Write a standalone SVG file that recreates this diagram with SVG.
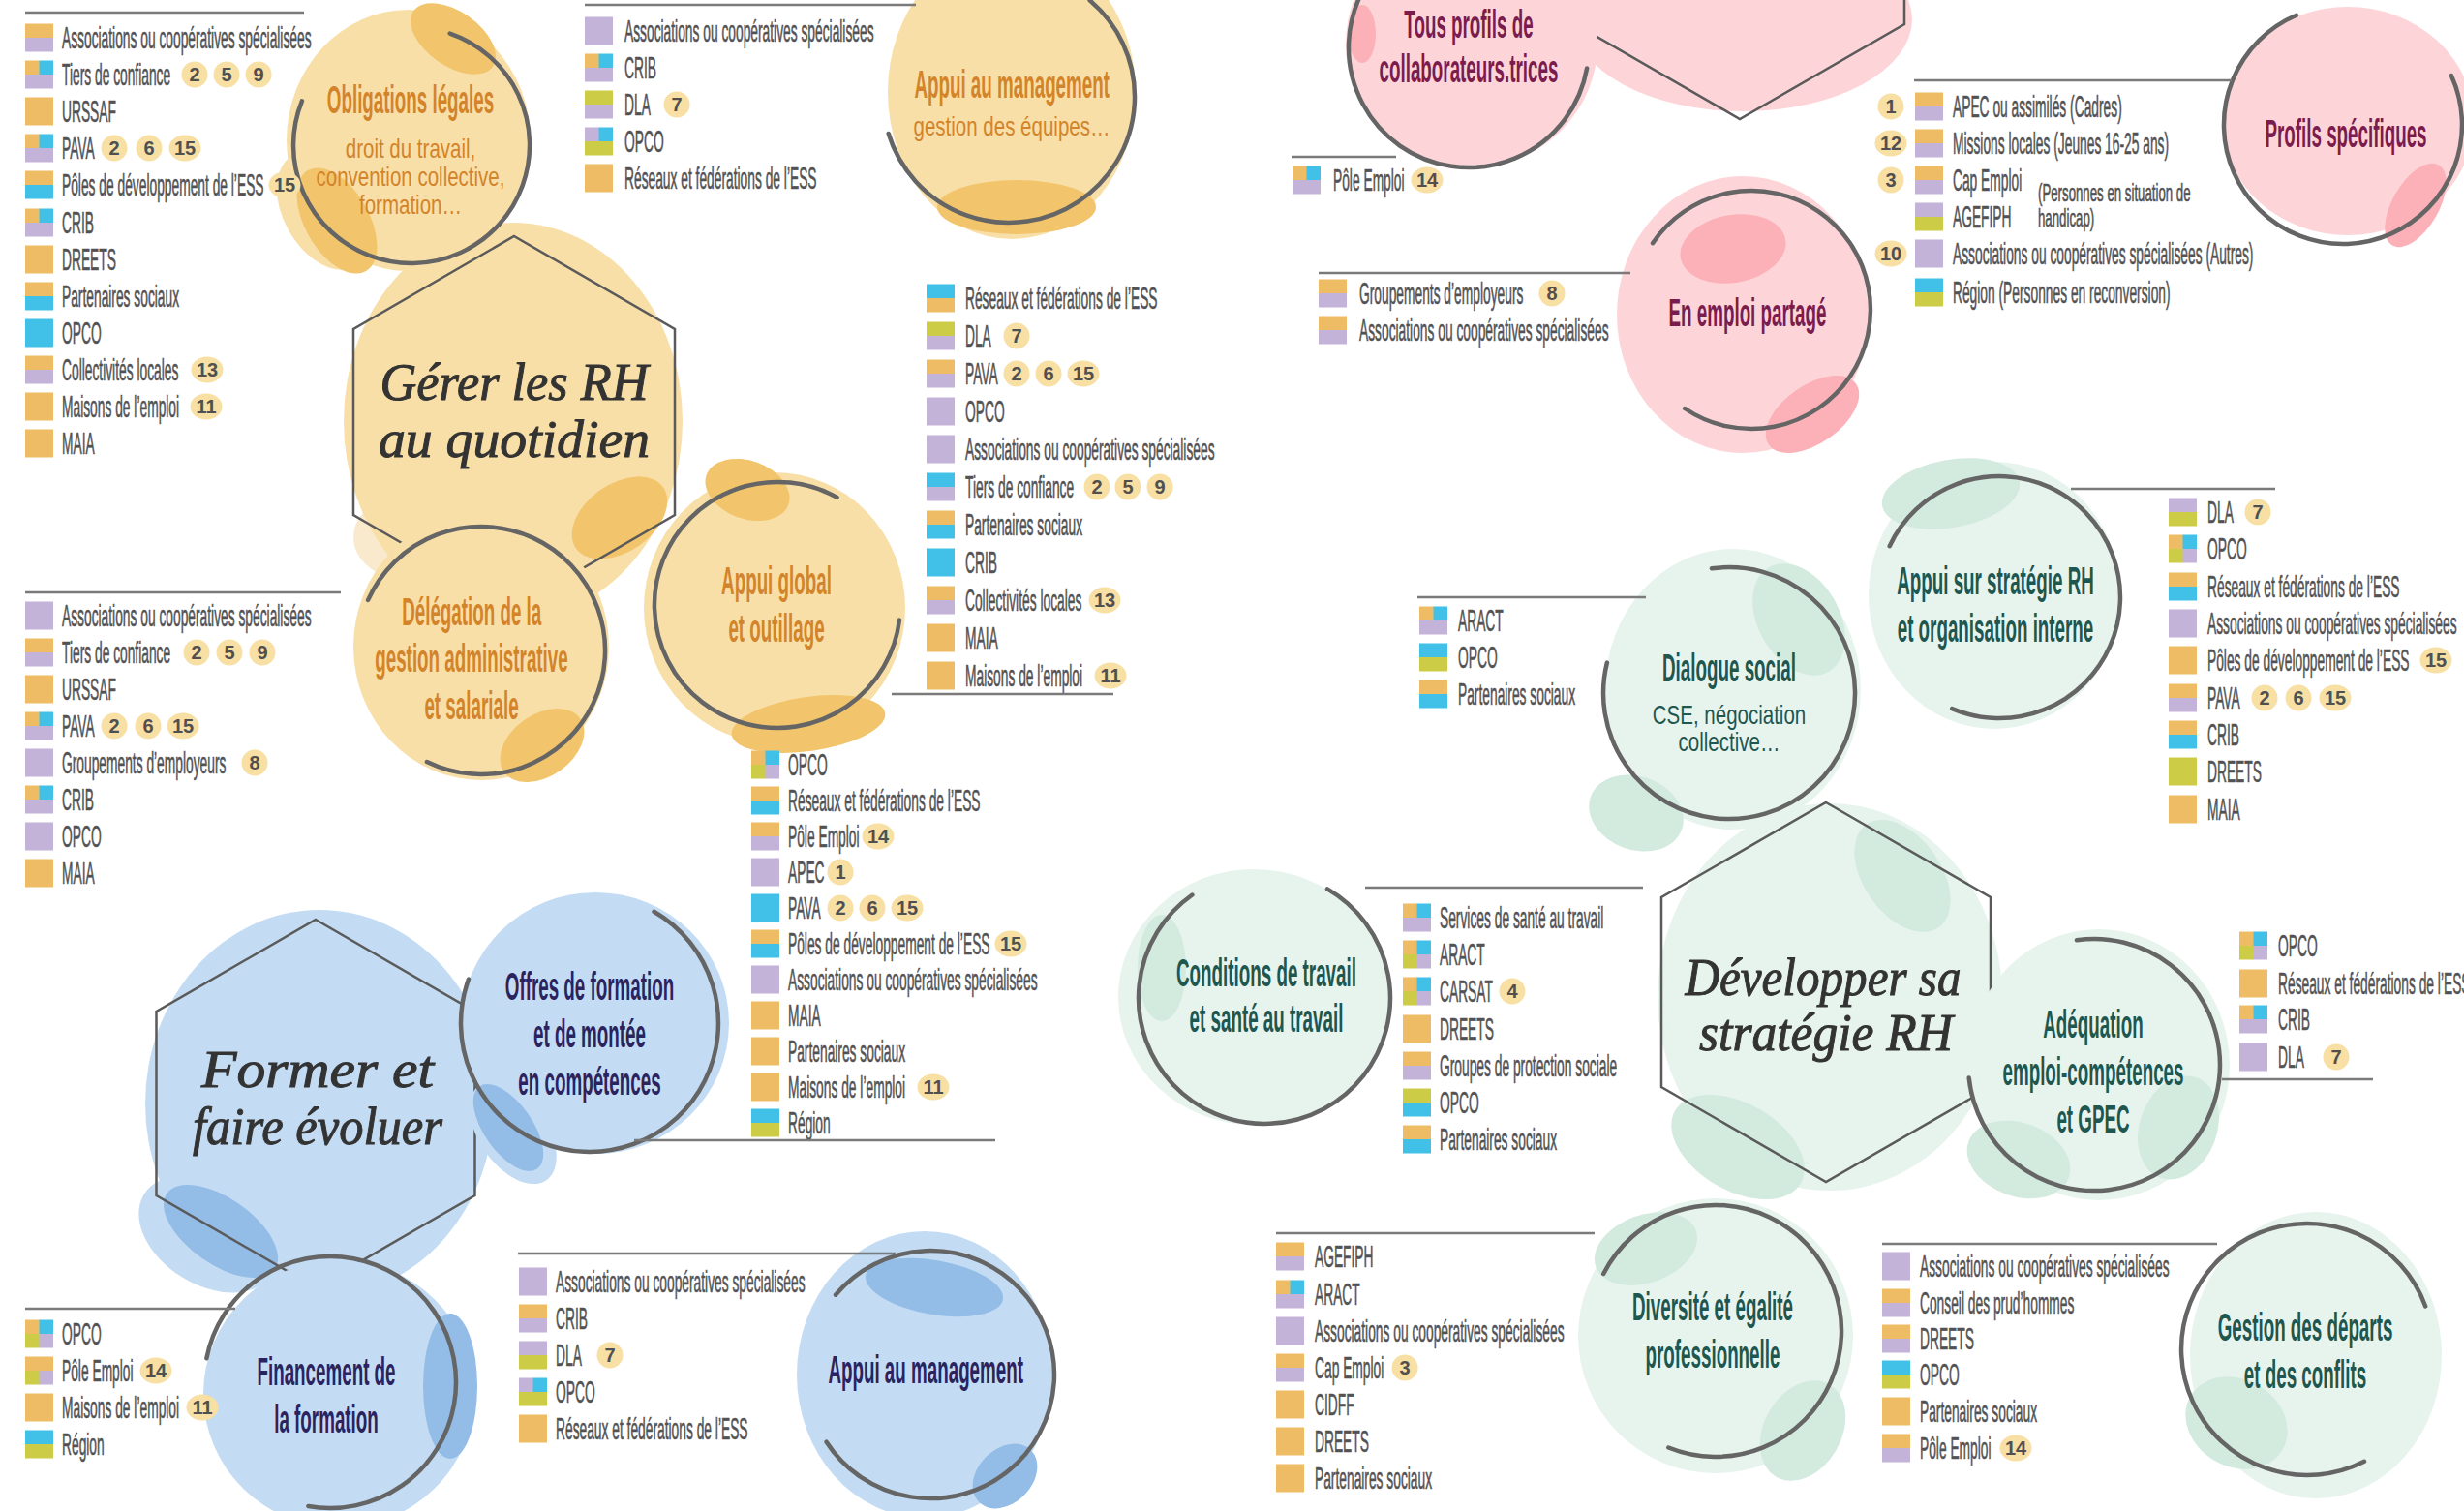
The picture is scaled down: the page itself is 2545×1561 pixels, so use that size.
<svg xmlns="http://www.w3.org/2000/svg" width="2545" height="1561" viewBox="0 0 2545 1561">
<style>
text{font-family:"Liberation Sans",Arial,sans-serif}
.t{font-size:31px;fill:#525254;stroke:#525254;stroke-width:.6;transform:scaleX(.445);transform-box:fill-box;transform-origin:0 50%}
.t2{font-size:25px;fill:#525254;stroke:#525254;stroke-width:.6;transform:scaleX(.53);transform-box:fill-box;transform-origin:0 50%}
.ti{font-size:40px;font-weight:bold;text-anchor:middle;transform:scaleX(.47);transform-box:fill-box;transform-origin:50% 50%}
.su{font-size:27px;text-anchor:middle;transform:scaleX(.76);transform-box:fill-box;transform-origin:50% 50%}
.hw{font-family:"Liberation Serif",serif;font-style:italic;font-size:54px;fill:#333;stroke:#333;stroke-width:1;text-anchor:middle}
.or{fill:#D3842A}.nv{fill:#2A235E}.mr{fill:#7B1C4E}.gr{fill:#1E5650}
.arc{fill:none;stroke:#656565;stroke-width:4.5;stroke-linecap:round}
.hex{fill:none;stroke:#5a5a5a;stroke-width:2.5}
.ln{stroke:#7a7a7a;stroke-width:2.5;fill:none}
.bo1{fill:#F8DFA7}.bo2{fill:#F2C46B}.bo0{fill:#FAEACD}
.bb1{fill:#C3DCF3}.bb2{fill:#93BCE7}
.bp1{fill:#FDD5D9}.bp2{fill:#FCB0B7}
.bg1{fill:#E7F4EE}.bg2{fill:#D3EADF}
.bd circle,.bd ellipse{fill:#F8DFA3}
.bd text{font-size:20px;font-weight:bold;fill:#505050;text-anchor:middle}
.co{fill:#EFBC66}.cl{fill:#C4B3D8}.cb{fill:#42C1E8}.cg{fill:#CDCC47}
</style>
<defs>
<g id="q-o"><rect class="co" width="29" height="29"/></g>
<g id="q-l"><rect class="cl" width="29" height="29"/></g>
<g id="q-b"><rect class="cb" width="29" height="29"/></g>
<g id="q-g"><rect class="cg" width="29" height="29"/></g>
<g id="q-ol"><rect class="co" width="29" height="15"/><rect class="cl" y="14.5" width="29" height="14.5"/></g>
<g id="q-ob"><rect class="co" width="29" height="15"/><rect class="cb" y="14.5" width="29" height="14.5"/></g>
<g id="q-bo"><rect class="cb" width="29" height="15"/><rect class="co" y="14.5" width="29" height="14.5"/></g>
<g id="q-bl"><rect class="cb" width="29" height="15"/><rect class="cl" y="14.5" width="29" height="14.5"/></g>
<g id="q-gl"><rect class="cg" width="29" height="15"/><rect class="cl" y="14.5" width="29" height="14.5"/></g>
<g id="q-lg"><rect class="cl" width="29" height="15"/><rect class="cg" y="14.5" width="29" height="14.5"/></g>
<g id="q-bg"><rect class="cb" width="29" height="15"/><rect class="cg" y="14.5" width="29" height="14.5"/></g>
<g id="q-gb"><rect class="cg" width="29" height="15"/><rect class="cb" y="14.5" width="29" height="14.5"/></g>
<g id="q-obl"><rect class="co" width="15" height="15"/><rect class="cb" x="14.5" width="14.5" height="15"/><rect class="cl" y="14.5" width="29" height="14.5"/></g>
<g id="q-lbg"><rect class="cl" width="15" height="15"/><rect class="cb" x="14.5" width="14.5" height="15"/><rect class="cg" y="14.5" width="29" height="14.5"/></g>
<g id="q-obgl"><rect class="co" width="15" height="15"/><rect class="cb" x="14.5" width="14.5" height="15"/><rect class="cg" y="14.5" width="15" height="14.5"/><rect class="cl" x="14.5" y="14.5" width="14.5" height="14.5"/></g>
<g id="q-ogl"><rect class="co" width="29" height="15"/><rect class="cg" y="14.5" width="15" height="14.5"/><rect class="cl" x="14.5" y="14.5" width="14.5" height="14.5"/></g>
</defs>
<rect width="2545" height="1561" fill="#ffffff"/>

<!-- HEXAGONS -->
<g id="n-gerer">
<ellipse class="bo0" cx="415" cy="555" rx="50" ry="42"/>
<ellipse class="bo1" cx="530" cy="435" rx="175" ry="205"/>
<ellipse class="bo2" cx="640" cy="535" rx="55" ry="35" transform="rotate(-35 640 535)"/>
<path class="hex" d="M531 244 L697 340 L697 532 L531 628 L365 532 L365 340Z"/>
<text class="hw" x="531" y="413" textLength="277" lengthAdjust="spacingAndGlyphs">Gérer les RH</text>
<text class="hw" x="531" y="472" textLength="280" lengthAdjust="spacingAndGlyphs">au quotidien</text>
</g>
<g id="n-former">
<ellipse class="bb1" cx="330" cy="1140" rx="180" ry="200"/>
<ellipse class="bb1" cx="215" cy="1275" rx="78" ry="52" transform="rotate(32 215 1275)"/>
<ellipse class="bb2" cx="228" cy="1272" rx="68" ry="34" transform="rotate(35 228 1272)"/>
<path class="hex" d="M326 950 L490.5 1045 L490.5 1235 L326 1330 L161.5 1235 L161.5 1045Z"/>
<text class="hw" x="328" y="1123" textLength="240" lengthAdjust="spacingAndGlyphs">Former et</text>
<text class="hw" x="328" y="1182" textLength="258" lengthAdjust="spacingAndGlyphs">faire évoluer</text>
</g>
<g id="n-recruter">
<ellipse class="bp1" cx="1800" cy="20" rx="175" ry="95"/>
<path class="hex" d="M1797 -269 L1967 -171 L1967 25 L1797 123 L1627 25 L1627 -171Z"/>
</g>
<g id="n-developper">
<ellipse class="bg1" cx="1890" cy="1030" rx="178" ry="200"/>
<ellipse class="bg2" cx="1965" cy="905" rx="40" ry="65" transform="rotate(-35 1965 905)"/>
<ellipse class="bg2" cx="1795" cy="1185" rx="75" ry="45" transform="rotate(30 1795 1185)"/>
<path class="hex" d="M1886 829 L2056 927 L2056 1123 L1886 1221 L1716 1123 L1716 927Z"/>
<text class="hw" x="1883" y="1028" textLength="285" lengthAdjust="spacingAndGlyphs">Développer sa</text>
<text class="hw" x="1886" y="1085" textLength="262" lengthAdjust="spacingAndGlyphs">stratégie RH</text>
</g>

<!-- ORANGE CIRCLES -->
<g id="n-obligations">
<ellipse class="bo1" cx="422" cy="145" rx="126" ry="135"/>
<ellipse class="bo1" cx="335" cy="218" rx="42" ry="66" transform="rotate(-30 335 218)"/>
<ellipse class="bo2" cx="468" cy="40" rx="50" ry="28" transform="rotate(35 468 40)"/>
<ellipse class="bo2" cx="348" cy="228" rx="33" ry="60" transform="rotate(-30 348 228)"/>
<path class="arc" d="M464.7 34.6 A122 122 0 1 1 311.9 104.3"/>
<text class="ti or" x="424" y="117">Obligations légales</text>
<text class="su or" x="424" y="163">droit du travail,</text>
<text class="su or" x="424" y="192">convention collective,</text>
<text class="su or" x="424" y="221">formation…</text>
<use href="#q-ol" x="26" y="24.5"/><text class="t" x="64" y="50">Associations ou coopératives spécialisées</text>
<use href="#q-obl" x="26" y="62.5"/><text class="t" x="64" y="88">Tiers de confiance</text>
<use href="#q-o" x="26" y="100.5"/><text class="t" x="64" y="126">URSSAF</text>
<use href="#q-obl" x="26" y="138.5"/><text class="t" x="64" y="164">PAVA</text>
<use href="#q-ob" x="26" y="176.5"/><text class="t" x="64" y="202">Pôles de développement de l’ESS</text>
<use href="#q-obl" x="26" y="215.5"/><text class="t" x="64" y="241">CRIB</text>
<use href="#q-o" x="26" y="253.5"/><text class="t" x="64" y="279">DREETS</text>
<use href="#q-ob" x="26" y="291.5"/><text class="t" x="64" y="317">Partenaires sociaux</text>
<use href="#q-b" x="26" y="329.5"/><text class="t" x="64" y="355">OPCO</text>
<use href="#q-ol" x="26" y="367.5"/><text class="t" x="64" y="393">Collectivités locales</text>
<use href="#q-o" x="26" y="405.5"/><text class="t" x="64" y="431">Maisons de l’emploi</text>
<use href="#q-o" x="26" y="443.5"/><text class="t" x="64" y="469">MAIA</text>
<g class="bd">
<circle cx="201" cy="77" r="13.5"/><text x="201" y="84">2</text>
<circle cx="234" cy="77" r="13.5"/><text x="234" y="84">5</text>
<circle cx="267" cy="77" r="13.5"/><text x="267" y="84">9</text>
<circle cx="118" cy="153" r="13.5"/><text x="118" y="160">2</text>
<circle cx="154" cy="153" r="13.5"/><text x="154" y="160">6</text>
<ellipse cx="191" cy="153" rx="16.5" ry="13.5"/><text x="191" y="160">15</text>
<ellipse cx="294" cy="191" rx="16.5" ry="13.5"/><text x="294" y="198">15</text>
<ellipse cx="214" cy="382" rx="16.5" ry="13.5"/><text x="214" y="389">13</text>
<ellipse cx="213" cy="420" rx="16.5" ry="13.5"/><text x="213" y="427">11</text>
</g>
</g>

<g id="n-management-o">
<ellipse class="bo1" cx="1045" cy="95" rx="128" ry="152"/>
<ellipse class="bo2" cx="1050" cy="214" rx="82" ry="28"/>
<path class="arc" d="M1125.6 0.4 A130 130 0 1 1 917.7 138"/>
<text class="ti or" x="1045" y="101">Appui au management</text>
<text class="su or" x="1045" y="140">gestion des équipes…</text>
<use href="#q-l" x="604" y="17.5"/><text class="t" x="645" y="43">Associations ou coopératives spécialisées</text>
<use href="#q-obl" x="604" y="55.5"/><text class="t" x="645" y="81">CRIB</text>
<use href="#q-gl" x="604" y="93.5"/><text class="t" x="645" y="119">DLA</text>
<use href="#q-lbg" x="604" y="131.5"/><text class="t" x="645" y="157">OPCO</text>
<use href="#q-o" x="604" y="169.5"/><text class="t" x="645" y="195">Réseaux et fédérations de l’ESS</text>
<g class="bd"><circle cx="699" cy="108" r="13.5"/><text x="699" y="115">7</text></g>
</g>

<g id="n-delegation">
<ellipse class="bo1" cx="497" cy="668" rx="132" ry="138"/>
<ellipse class="bo2" cx="560" cy="770" rx="48" ry="32" transform="rotate(-35 560 770)"/>
<path class="arc" d="M380.1 619.9 A128 128 0 1 1 440.9 787"/>
<text class="ti or" x="487" y="646">Délégation de la</text>
<text class="ti or" x="487" y="694">gestion administrative</text>
<text class="ti or" x="487" y="743">et salariale</text>
<use href="#q-l" x="26" y="621.5"/><text class="t" x="64" y="647">Associations ou coopératives spécialisées</text>
<use href="#q-ol" x="26" y="659.5"/><text class="t" x="64" y="685">Tiers de confiance</text>
<use href="#q-o" x="26" y="697.5"/><text class="t" x="64" y="723">URSSAF</text>
<use href="#q-obl" x="26" y="735.5"/><text class="t" x="64" y="761">PAVA</text>
<use href="#q-l" x="26" y="773.5"/><text class="t" x="64" y="799">Groupements d’employeurs</text>
<use href="#q-obl" x="26" y="811.5"/><text class="t" x="64" y="837">CRIB</text>
<use href="#q-l" x="26" y="849.5"/><text class="t" x="64" y="875">OPCO</text>
<use href="#q-o" x="26" y="887.5"/><text class="t" x="64" y="913">MAIA</text>
<g class="bd">
<circle cx="203" cy="674" r="13.5"/><text x="203" y="681">2</text>
<circle cx="237" cy="674" r="13.5"/><text x="237" y="681">5</text>
<circle cx="271" cy="674" r="13.5"/><text x="271" y="681">9</text>
<circle cx="118" cy="750" r="13.5"/><text x="118" y="757">2</text>
<circle cx="153" cy="750" r="13.5"/><text x="153" y="757">6</text>
<ellipse cx="189" cy="750" rx="16.5" ry="13.5"/><text x="189" y="757">15</text>
<circle cx="263" cy="788" r="13.5"/><text x="263" y="795">8</text>
</g>
</g>

<g id="n-global">
<ellipse class="bo1" cx="800" cy="628" rx="135" ry="140"/>
<ellipse class="bo2" cx="772" cy="506" rx="45" ry="30" transform="rotate(20 772 506)"/>
<ellipse class="bo2" cx="835" cy="748" rx="80" ry="28" transform="rotate(-8 835 748)"/>
<path class="arc" d="M929 640.5 A127 127 0 1 1 864.6 513.9"/>
<text class="ti or" x="802" y="614">Appui global</text>
<text class="ti or" x="802" y="663">et outillage</text>
<use href="#q-bo" x="957" y="293.5"/><text class="t" x="997" y="319">Réseaux et fédérations de l’ESS</text>
<use href="#q-gl" x="957" y="332.5"/><text class="t" x="997" y="358">DLA</text>
<use href="#q-ol" x="957" y="371.5"/><text class="t" x="997" y="397">PAVA</text>
<use href="#q-l" x="957" y="410.5"/><text class="t" x="997" y="436">OPCO</text>
<use href="#q-l" x="957" y="449.5"/><text class="t" x="997" y="475">Associations ou coopératives spécialisées</text>
<use href="#q-bl" x="957" y="488.5"/><text class="t" x="997" y="514">Tiers de confiance</text>
<use href="#q-ob" x="957" y="527.5"/><text class="t" x="997" y="553">Partenaires sociaux</text>
<use href="#q-b" x="957" y="566.5"/><text class="t" x="997" y="592">CRIB</text>
<use href="#q-ol" x="957" y="605.5"/><text class="t" x="997" y="631">Collectivités locales</text>
<use href="#q-o" x="957" y="644.5"/><text class="t" x="997" y="670">MAIA</text>
<use href="#q-o" x="957" y="683.5"/><text class="t" x="997" y="709">Maisons de l’emploi</text>
<g class="bd">
<circle cx="1050" cy="347" r="13.5"/><text x="1050" y="354">7</text>
<circle cx="1050" cy="386" r="13.5"/><text x="1050" y="393">2</text>
<circle cx="1083" cy="386" r="13.5"/><text x="1083" y="393">6</text>
<ellipse cx="1119" cy="386" rx="16.5" ry="13.5"/><text x="1119" y="393">15</text>
<circle cx="1133" cy="503" r="13.5"/><text x="1133" y="510">2</text>
<circle cx="1165" cy="503" r="13.5"/><text x="1165" y="510">5</text>
<circle cx="1198" cy="503" r="13.5"/><text x="1198" y="510">9</text>
<ellipse cx="1141" cy="620" rx="16.5" ry="13.5"/><text x="1141" y="627">13</text>
<ellipse cx="1147" cy="698" rx="16.5" ry="13.5"/><text x="1147" y="705">11</text>
</g>
</g>

<!-- BLUE CIRCLES -->
<g id="n-offres">
<ellipse class="bb1" cx="615" cy="1057" rx="138" ry="135"/>
<ellipse class="bb1" cx="530" cy="1170" rx="35" ry="60" transform="rotate(-35 530 1170)"/>
<ellipse class="bb2" cx="525" cy="1165" rx="25" ry="52" transform="rotate(-35 525 1165)"/>
<path class="arc" d="M675.5 941.8 A133 133 0 1 1 484 1011.5"/>
<text class="ti nv" x="609" y="1033">Offres de formation</text>
<text class="ti nv" x="609" y="1082">et de montée</text>
<text class="ti nv" x="609" y="1131">en compétences</text>
<use href="#q-obgl" x="776" y="775.5"/><text class="t" x="814" y="801">OPCO</text>
<use href="#q-ob" x="776" y="812.5"/><text class="t" x="814" y="838">Réseaux et fédérations de l’ESS</text>
<use href="#q-ol" x="776" y="849.5"/><text class="t" x="814" y="875">Pôle Emploi</text>
<use href="#q-l" x="776" y="886.5"/><text class="t" x="814" y="912">APEC</text>
<use href="#q-b" x="776" y="923.5"/><text class="t" x="814" y="949">PAVA</text>
<use href="#q-ob" x="776" y="960.5"/><text class="t" x="814" y="986">Pôles de développement de l’ESS</text>
<use href="#q-l" x="776" y="997.5"/><text class="t" x="814" y="1023">Associations ou coopératives spécialisées</text>
<use href="#q-o" x="776" y="1034.5"/><text class="t" x="814" y="1060">MAIA</text>
<use href="#q-o" x="776" y="1071.5"/><text class="t" x="814" y="1097">Partenaires sociaux</text>
<use href="#q-o" x="776" y="1108.5"/><text class="t" x="814" y="1134">Maisons de l’emploi</text>
<use href="#q-bg" x="776" y="1145.5"/><text class="t" x="814" y="1171">Région</text>
<g class="bd">
<ellipse cx="907" cy="864" rx="16.5" ry="13.5"/><text x="907" y="871">14</text>
<circle cx="868" cy="901" r="13.5"/><text x="868" y="908">1</text>
<circle cx="868" cy="938" r="13.5"/><text x="868" y="945">2</text>
<circle cx="901" cy="938" r="13.5"/><text x="901" y="945">6</text>
<ellipse cx="937" cy="938" rx="16.5" ry="13.5"/><text x="937" y="945">15</text>
<ellipse cx="1044" cy="975" rx="16.5" ry="13.5"/><text x="1044" y="982">15</text>
<ellipse cx="964" cy="1123" rx="16.5" ry="13.5"/><text x="964" y="1130">11</text>
</g>
</g>

<g id="n-financement">
<ellipse class="bb1" cx="350" cy="1440" rx="140" ry="138"/>
<ellipse class="bb2" cx="465" cy="1432" rx="28" ry="75"/>
<path class="arc" d="M213.4 1403.2 A130 130 0 1 1 318.4 1556"/>
<text class="ti nv" x="337" y="1431">Financement de</text>
<text class="ti nv" x="337" y="1480">la formation</text>
<use href="#q-obgl" x="26" y="1363.5"/><text class="t" x="64" y="1389">OPCO</text>
<use href="#q-ogl" x="26" y="1401.5"/><text class="t" x="64" y="1427">Pôle Emploi</text>
<use href="#q-o" x="26" y="1439.5"/><text class="t" x="64" y="1465">Maisons de l’emploi</text>
<use href="#q-bg" x="26" y="1477.5"/><text class="t" x="64" y="1503">Région</text>
<g class="bd">
<ellipse cx="161" cy="1416" rx="16.5" ry="13.5"/><text x="161" y="1423">14</text>
<ellipse cx="209" cy="1454" rx="16.5" ry="13.5"/><text x="209" y="1461">11</text>
</g>
</g>

<g id="n-management-b">
<ellipse class="bb1" cx="955" cy="1420" rx="132" ry="148"/>
<ellipse class="bb2" cx="965" cy="1330" rx="72" ry="28" transform="rotate(10 965 1330)"/>
<ellipse class="bb2" cx="1038" cy="1525" rx="38" ry="28" transform="rotate(-45 1038 1525)"/>
<path class="arc" d="M863 1337.7 A128 128 0 1 1 853.6 1489.7"/>
<text class="ti nv" x="956" y="1429">Appui au management</text>
<use href="#q-l" x="536" y="1309.5"/><text class="t" x="574" y="1335">Associations ou coopératives spécialisées</text>
<use href="#q-ol" x="536" y="1347.5"/><text class="t" x="574" y="1373">CRIB</text>
<use href="#q-lg" x="536" y="1385.5"/><text class="t" x="574" y="1411">DLA</text>
<use href="#q-lbg" x="536" y="1423.5"/><text class="t" x="574" y="1449">OPCO</text>
<use href="#q-o" x="536" y="1461.5"/><text class="t" x="574" y="1487">Réseaux et fédérations de l’ESS</text>
<g class="bd"><circle cx="630" cy="1400" r="13.5"/><text x="630" y="1407">7</text></g>
</g>

<!-- PINK CIRCLES -->
<g id="n-tous">
<ellipse class="bp1" cx="1520" cy="45" rx="130" ry="128"/>
<ellipse class="bp2" cx="1407" cy="35" rx="14" ry="30"/>
<path class="arc" d="M1639.1 70.5 A124 124 0 1 1 1455 -58.4"/>
<text class="ti mr" x="1517" y="39">Tous profils de</text>
<text class="ti mr" x="1517" y="85">collaborateurs.trices</text>
<use href="#q-obl" x="1335" y="171.5"/><text class="t" x="1377" y="197">Pôle Emploi</text>
<g class="bd"><ellipse cx="1474" cy="186" rx="16.5" ry="13.5"/><text x="1474" y="193">14</text></g>
</g>

<g id="n-partage">
<ellipse class="bp1" cx="1800" cy="325" rx="130" ry="143"/>
<ellipse class="bp2" cx="1790" cy="257" rx="55" ry="35" transform="rotate(-10 1790 257)"/>
<ellipse class="bp2" cx="1872" cy="428" rx="55" ry="30" transform="rotate(-35 1872 428)"/>
<path class="arc" d="M1707 251.2 A123 123 0 1 1 1740.2 422"/>
<text class="ti mr" x="1805" y="337">En emploi partagé</text>
<use href="#q-ol" x="1362" y="288.5"/><text class="t" x="1404" y="314">Groupements d’employeurs</text>
<use href="#q-ol" x="1362" y="326.5"/><text class="t" x="1404" y="352">Associations ou coopératives spécialisées</text>
<g class="bd"><circle cx="1603" cy="303" r="13.5"/><text x="1603" y="310">8</text></g>
</g>

<g id="n-profils">
<ellipse class="bp1" cx="2425" cy="125" rx="130" ry="118"/>
<ellipse class="bp2" cx="2495" cy="212" rx="24" ry="48" transform="rotate(30 2495 212)"/>
<path class="arc" d="M2531.9 78 A123 123 0 1 1 2371.9 15.8"/>
<text class="ti mr" x="2423" y="152">Profils spécifiques</text>
<use href="#q-ol" x="1978" y="95.5"/><text class="t" x="2017" y="121">APEC ou assimilés (Cadres)</text>
<use href="#q-ol" x="1978" y="133.5"/><text class="t" x="2017" y="159">Missions locales (Jeunes 16-25 ans)</text>
<use href="#q-ol" x="1978" y="171.5"/><text class="t" x="2017" y="197">Cap Emploi</text>
<use href="#q-lg" x="1978" y="209.5"/><text class="t" x="2017" y="235">AGEFIPH</text>
<text class="t2" x="2105" y="208">(Personnes en situation de</text>
<text class="t2" x="2105" y="234">handicap)</text>
<use href="#q-l" x="1978" y="247.5"/><text class="t" x="2017" y="273">Associations ou coopératives spécialisées (Autres)</text>
<use href="#q-bg" x="1978" y="287.5"/><text class="t" x="2017" y="313">Région (Personnes en reconversion)</text>
<g class="bd">
<circle cx="1953" cy="110" r="13.5"/><text x="1953" y="117">1</text>
<ellipse cx="1953" cy="148" rx="16.5" ry="13.5"/><text x="1953" y="155">12</text>
<circle cx="1953" cy="186" r="13.5"/><text x="1953" y="193">3</text>
<ellipse cx="1953" cy="262" rx="16.5" ry="13.5"/><text x="1953" y="269">10</text>
</g>
</g>

<!-- GREEN CIRCLES -->
<g id="n-strategie">
<ellipse class="bg1" cx="2060" cy="615" rx="130" ry="138"/>
<ellipse class="bg2" cx="2015" cy="510" rx="72" ry="35" transform="rotate(-10 2015 510)"/>
<path class="arc" d="M1951.7 564.2 A125 125 0 1 1 2016.2 732.1"/>
<text class="ti gr" x="2061" y="614">Appui sur stratégie RH</text>
<text class="ti gr" x="2061" y="663">et organisation interne</text>
<use href="#q-lg" x="2240" y="514.5"/><text class="t" x="2280" y="540">DLA</text>
<use href="#q-obgl" x="2240" y="552.5"/><text class="t" x="2280" y="578">OPCO</text>
<use href="#q-ob" x="2240" y="591.5"/><text class="t" x="2280" y="617">Réseaux et fédérations de l’ESS</text>
<use href="#q-l" x="2240" y="629.5"/><text class="t" x="2280" y="655">Associations ou coopératives spécialisées</text>
<use href="#q-o" x="2240" y="667.5"/><text class="t" x="2280" y="693">Pôles de développement de l’ESS</text>
<use href="#q-ol" x="2240" y="706.5"/><text class="t" x="2280" y="732">PAVA</text>
<use href="#q-ob" x="2240" y="744.5"/><text class="t" x="2280" y="770">CRIB</text>
<use href="#q-g" x="2240" y="782.5"/><text class="t" x="2280" y="808">DREETS</text>
<use href="#q-o" x="2240" y="821.5"/><text class="t" x="2280" y="847">MAIA</text>
<g class="bd">
<circle cx="2332" cy="529" r="13.5"/><text x="2332" y="536">7</text>
<ellipse cx="2516" cy="682" rx="16.5" ry="13.5"/><text x="2516" y="689">15</text>
<circle cx="2339" cy="721" r="13.5"/><text x="2339" y="728">2</text>
<circle cx="2374" cy="721" r="13.5"/><text x="2374" y="728">6</text>
<ellipse cx="2412" cy="721" rx="16.5" ry="13.5"/><text x="2412" y="728">15</text>
</g>
</g>

<g id="n-dialogue">
<ellipse class="bg1" cx="1790" cy="712" rx="132" ry="145"/>
<ellipse class="bg2" cx="1858" cy="640" rx="42" ry="62" transform="rotate(-30 1858 640)"/>
<ellipse class="bg2" cx="1690" cy="840" rx="50" ry="38" transform="rotate(20 1690 840)"/>
<path class="arc" d="M1767.9 587.3 A130 130 0 1 1 1659.9 684.6"/>
<text class="ti gr" x="1786" y="704">Dialogue social</text>
<text class="su gr" x="1786" y="748">CSE, négociation</text>
<text class="su gr" x="1786" y="776">collective…</text>
<use href="#q-obl" x="1466" y="626.5"/><text class="t" x="1506" y="652">ARACT</text>
<use href="#q-bg" x="1466" y="664.5"/><text class="t" x="1506" y="690">OPCO</text>
<use href="#q-ob" x="1466" y="702.5"/><text class="t" x="1506" y="728">Partenaires sociaux</text>
</g>

<g id="n-conditions">
<ellipse class="bg1" cx="1295" cy="1030" rx="140" ry="132"/>
<ellipse class="bg2" cx="1200" cy="1000" rx="25" ry="55"/>
<path class="arc" d="M1371 918.4 A130 130 0 1 1 1231.4 924.5"/>
<text class="ti gr" x="1308" y="1019">Conditions de travail</text>
<text class="ti gr" x="1308" y="1066">et santé au travail</text>
<use href="#q-obl" x="1449" y="933.5"/><text class="t" x="1487" y="959">Services de santé au travail</text>
<use href="#q-obgl" x="1449" y="971.5"/><text class="t" x="1487" y="997">ARACT</text>
<use href="#q-obgl" x="1449" y="1009.5"/><text class="t" x="1487" y="1035">CARSAT</text>
<use href="#q-o" x="1449" y="1048.5"/><text class="t" x="1487" y="1074">DREETS</text>
<use href="#q-ol" x="1449" y="1086.5"/><text class="t" x="1487" y="1112">Groupes de protection sociale</text>
<use href="#q-gb" x="1449" y="1124.5"/><text class="t" x="1487" y="1150">OPCO</text>
<use href="#q-ob" x="1449" y="1162.5"/><text class="t" x="1487" y="1188">Partenaires sociaux</text>
<g class="bd"><circle cx="1562" cy="1024" r="13.5"/><text x="1562" y="1031">4</text></g>
</g>

<g id="n-adequation">
<ellipse class="bg1" cx="2168" cy="1100" rx="135" ry="140"/>
<ellipse class="bg2" cx="2085" cy="1198" rx="55" ry="38" transform="rotate(20 2085 1198)"/>
<ellipse class="bg2" cx="2250" cy="1165" rx="40" ry="55" transform="rotate(20 2250 1165)"/>
<path class="arc" d="M2144.9 971.3 A130 130 0 1 1 2033.7 1113.6"/>
<text class="ti gr" x="2162" y="1072">Adéquation</text>
<text class="ti gr" x="2162" y="1121">emploi-compétences</text>
<text class="ti gr" x="2162" y="1170">et GPEC</text>
<use href="#q-obgl" x="2313" y="962.5"/><text class="t" x="2353" y="988">OPCO</text>
<use href="#q-o" x="2313" y="1001.5"/><text class="t" x="2353" y="1027">Réseaux et fédérations de l’ESS</text>
<use href="#q-obl" x="2313" y="1038.5"/><text class="t" x="2353" y="1064">CRIB</text>
<use href="#q-l" x="2313" y="1077.5"/><text class="t" x="2353" y="1103">DLA</text>
<g class="bd"><circle cx="2413" cy="1092" r="13.5"/><text x="2413" y="1099">7</text></g>
</g>

<g id="n-diversite">
<ellipse class="bg1" cx="1772" cy="1380" rx="142" ry="142"/>
<ellipse class="bg2" cx="1700" cy="1290" rx="55" ry="35" transform="rotate(-20 1700 1290)"/>
<ellipse class="bg2" cx="1862" cy="1478" rx="40" ry="55" transform="rotate(30 1862 1478)"/>
<path class="arc" d="M1656.2 1316 A130 130 0 1 1 1723.3 1495.5"/>
<text class="ti gr" x="1769" y="1364">Diversité et égalité</text>
<text class="ti gr" x="1769" y="1413">professionnelle</text>
<use href="#q-ol" x="1318" y="1283.5"/><text class="t" x="1358" y="1309">AGEFIPH</text>
<use href="#q-obl" x="1318" y="1322.5"/><text class="t" x="1358" y="1348">ARACT</text>
<use href="#q-l" x="1318" y="1360.5"/><text class="t" x="1358" y="1386">Associations ou coopératives spécialisées</text>
<use href="#q-ol" x="1318" y="1398.5"/><text class="t" x="1358" y="1424">Cap Emploi</text>
<use href="#q-o" x="1318" y="1436.5"/><text class="t" x="1358" y="1462">CIDFF</text>
<use href="#q-o" x="1318" y="1474.5"/><text class="t" x="1358" y="1500">DREETS</text>
<use href="#q-o" x="1318" y="1512.5"/><text class="t" x="1358" y="1538">Partenaires sociaux</text>
<g class="bd"><circle cx="1451" cy="1413" r="13.5"/><text x="1451" y="1420">3</text></g>
</g>

<g id="n-gestion">
<ellipse class="bg1" cx="2392" cy="1400" rx="130" ry="148"/>
<ellipse class="bg2" cx="2310" cy="1470" rx="55" ry="45" transform="rotate(30 2310 1470)"/>
<path class="arc" d="M2442 1509.8 A130 130 0 1 1 2505.2 1349.5"/>
<text class="ti gr" x="2381" y="1385">Gestion des départs</text>
<text class="ti gr" x="2381" y="1434">et des conflits</text>
<use href="#q-l" x="1944" y="1293.5"/><text class="t" x="1983" y="1319">Associations ou coopératives spécialisées</text>
<use href="#q-ol" x="1944" y="1331.5"/><text class="t" x="1983" y="1357">Conseil des prud’hommes</text>
<use href="#q-ol" x="1944" y="1368.5"/><text class="t" x="1983" y="1394">DREETS</text>
<use href="#q-bg" x="1944" y="1405.5"/><text class="t" x="1983" y="1431">OPCO</text>
<use href="#q-o" x="1944" y="1443.5"/><text class="t" x="1983" y="1469">Partenaires sociaux</text>
<use href="#q-ol" x="1944" y="1481.5"/><text class="t" x="1983" y="1507">Pôle Emploi</text>
<g class="bd"><ellipse cx="2082" cy="1496" rx="16.5" ry="13.5"/><text x="2082" y="1503">14</text></g>
</g>

<!-- CONNECTORS -->
<g id="connectors" class="ln">
<path d="M26 13 H314"/>
<path d="M604 5 H946"/>
<path d="M921 717 H1150"/>
<path d="M26 612 H352"/>
<path d="M655 1178 H1028"/>
<path d="M26 1352 H243"/>
<path d="M535 1295 H925"/>
<path d="M1334 162 H1442"/>
<path d="M1362 282 H1684"/>
<path d="M1977 83 H2305"/>
<path d="M2139 505 H2350"/>
<path d="M1464 617 H1700"/>
<path d="M1410 917 H1697"/>
<path d="M2295 1115 H2451"/>
<path d="M1318 1274 H1647"/>
<path d="M1944 1285 H2290"/>
</g>
</svg>
